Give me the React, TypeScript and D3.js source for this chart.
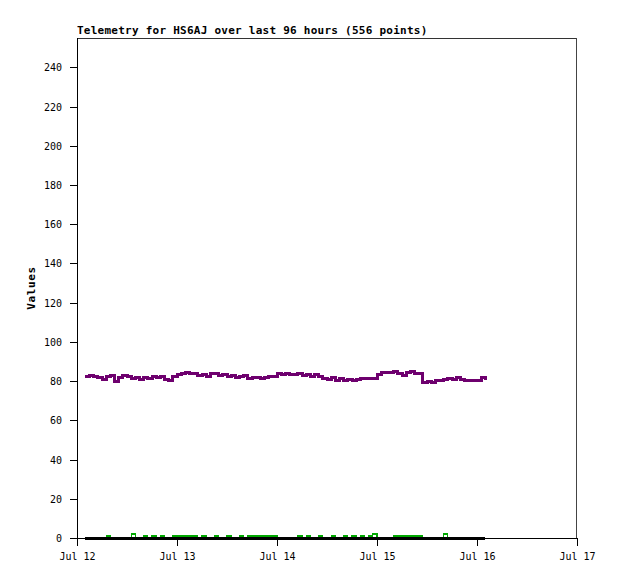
import React from "react";
import * as d3 from "d3";

// hourly samples, hour offset from Jul 12 00:00 UTC
const purpleHours = d3.range(2, 99);
const purpleValues = [
  82.5, 83, 82.5, 82, 81, 82.5, 83, 80, 82, 83, 82.5, 81.5, 82, 81, 82, 81.5,
  82.5, 82, 82.5, 81, 80.5, 82.5, 83.5, 84, 84.5, 84, 84, 83, 83.5, 82.5, 84,
  84, 83, 83.5, 82.5, 83, 82, 82.5, 83, 81.5, 82, 82, 81.5, 82, 82.5, 82.5,
  84, 83.5, 84, 83.5, 83.5, 84, 83, 83.5, 82.5, 83.5, 82.5, 81.5, 81, 82, 80.5,
  81.5, 80.5, 81, 80.5, 81, 81.5, 81.5, 81.5, 81.5, 83.5, 84.5, 84.5, 84.5, 85,
  84, 83, 84.5, 85, 84, 84, 79.5, 80, 79.5, 80.5, 80.5, 81, 81.5, 81, 82, 81,
  80.5, 80.5, 80.5, 80.5, 82, 80.5,
];
// hours where the green series reads 1 (or 2)
const greenOnes = [7, 16, 18, 20, 23, 24, 25, 26, 27, 28, 30, 33, 36, 39, 41, 42, 43, 44, 45, 46, 47, 53, 55, 58, 61, 64, 66, 68, 70, 76, 77, 78, 79, 80, 81, 82];
const greenTwos = [13, 71, 88];

const yTicks = [0, 20, 40, 60, 80, 100, 120, 140, 160, 180, 200, 220, 240];
const dayTicks = [12, 13, 14, 15, 16, 17];

const title = "Telemetry for HS6AJ over last 96 hours (556 points)";
const yLabel = "Values";

const W = 618;
const H = 579;
const m = { left: 77, top: 38, right: 41, bottom: 41 };
const mono = "'DejaVu Sans Mono', 'Liberation Mono', monospace";

const t0 = Date.UTC(2024, 6, 12);
const hourDate = (h: number) => new Date(t0 + h * 3600e3);

export default function App() {
  const x = d3
    .scaleUtc()
    .domain([hourDate(0), hourDate(120)])
    .range([m.left, W - m.right]);
  const y = d3.scaleLinear().domain([0, 255]).range([H - m.bottom, m.top]);

  const purple = purpleHours.map((h, i) => ({ t: hourDate(h), v: purpleValues[i] }));
  const green = purpleHours.map((h) => ({
    t: hourDate(h),
    v: greenTwos.includes(h) ? 2 : greenOnes.includes(h) ? 1 : 0,
  }));
  const black = purpleHours.map((h) => ({ t: hourDate(h), v: 0 }));

  const line = d3
    .line<{ t: Date; v: number }>()
    .x((d) => x(d.t))
    .y((d) => y(d.v))
    .curve(d3.curveStepAfter);

  const fmt = d3.utcFormat("%b %d");
  const x0 = m.left;
  const x1 = W - m.right;
  const y0 = H - m.bottom;
  const y1 = m.top;

  return (
    <svg
      width={W}
      height={H}
      style={{ position: "absolute", left: 0, top: 0, background: "#fff" }}
      shapeRendering="crispEdges"
    >
      <rect x={0} y={0} width={W} height={H} fill="#fff" />
      <text
        x={x0}
        y={34}
        fontFamily={mono}
        fontWeight="bold"
        fontSize={11}
        letterSpacing={0.25}
        fill="#000"
      >
        {title}
      </text>
      {/* frame */}
      <line x1={x0} x2={x1} y1={y1 + 0.5} y2={y1 + 0.5} stroke="#333" />
      <line x1={x1 - 0.5} x2={x1 - 0.5} y1={y1} y2={y0} stroke="#444" />
      <line x1={x0 + 0.5} x2={x0 + 0.5} y1={y1} y2={y0 + 1} stroke="#000" />
      <line x1={x0} x2={x1} y1={y0 + 0.5} y2={y0 + 0.5} stroke="#000" />

      {yTicks.map((t) => (
        <g key={t}>
          <line x1={x0 - 7} x2={x0} y1={Math.round(y(t)) + 0.5} y2={Math.round(y(t)) + 0.5} stroke="#000" />
          <text
            x={x0 - 15}
            y={y(t) + 4}
            textAnchor="end"
            fontFamily={mono}
            fontSize={10}
            fill="#000"
          >
            {t}
          </text>
        </g>
      ))}
      {dayTicks.map((d) => {
        const dt = new Date(Date.UTC(2024, 6, d));
        const px = Math.round(x(dt)) + 0.5;
        return (
          <g key={d}>
            <line x1={px} x2={px} y1={y0} y2={y0 + 8} stroke="#000" />
            <text
              x={px}
              y={y0 + 22}
              textAnchor="middle"
              fontFamily={mono}
              fontSize={10}
              fill="#000"
            >
              {fmt(dt)}
            </text>
          </g>
        );
      })}
      <text
        transform={`translate(35,${(y0 + y1) / 2}) rotate(-90)`}
        textAnchor="middle"
        fontFamily={mono}
        fontWeight="bold"
        fontSize={11}
        letterSpacing={0.6}
        fill="#000"
      >
        {yLabel}
      </text>

      <path d={line(green) ?? ""} fill="none" stroke="#00a800" strokeWidth={1.2} />
      <path d={line(black) ?? ""} fill="none" stroke="#000" strokeWidth={3} />
      <path d={line(purple) ?? ""} fill="none" stroke="#6e006e" strokeWidth={3} />
    </svg>
  );
}
